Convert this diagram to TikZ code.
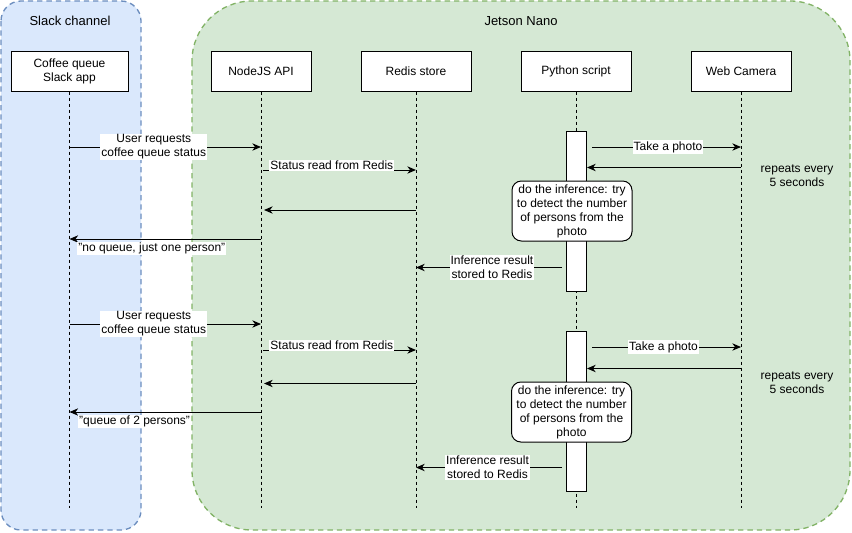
\documentclass[tikz,border=0pt]{standalone}
\usepackage{fontspec}
\setmainfont{Liberation Sans}
\definecolor{slackfill}{HTML}{DAE8FC}
\definecolor{slackedge}{HTML}{6C8EBF}
\definecolor{jetsonfill}{HTML}{D5E8D4}
\definecolor{jetsonedge}{HTML}{82B366}
\usetikzlibrary{arrows.meta, positioning, calc}

\begin{document}
\begin{tikzpicture}[x=0.75pt, y=-0.75pt, font=\fontsize{9}{10.5}\selectfont,
  head/.style={draw, fill=white, line width=0.75pt, minimum width=75pt, minimum height=30pt, align=center, inner sep=1pt},
  life/.style={line width=0.6pt, dash pattern=on 2.25pt off 2.25pt},
  actbox/.style={draw, fill=white, line width=0.75pt, minimum width=15pt, minimum height=120pt, inner sep=0pt},
  thinkbox/.style={draw, fill=white, line width=0.75pt, rounded corners=7pt, minimum width=90pt, minimum height=45pt, align=center, inner sep=1pt},
  msg/.style={line width=0.75pt, -{Stealth[length=6.5pt, width=5.5pt, inset=2pt]}},
  lbl/.style={fill=white, inner sep=0.8pt, align=center}]
  \useasboundingbox (0,0) rectangle (852,532);

  % Containers
  \draw[slackedge, fill=slackfill, line width=1pt, dash pattern=on 4pt off 3pt, rounded corners=15pt] (1,1) rectangle (141,530);
  \draw[jetsonedge, fill=jetsonfill, line width=1pt, dash pattern=on 4pt off 3pt, rounded corners=45pt] (192,1) rectangle (850,530);
  \node[font=\fontsize{9.75}{11}\selectfont] (slacktitle) at (70,21) {Slack channel};
  \node[font=\fontsize{9.75}{11}\selectfont] (jetsontitle) at (521,21) {Jetson Nano};

  % Lifeline heads
  \node[head, minimum width=87.75pt] (slackapp) at (69.5,71) {Coffee queue\\Slack app};
  \node[head] (api) at (261,71) {NodeJS API};
  \node[head, minimum width=82.5pt] (redis) at (416,71) {Redis store};
  \node[head, minimum width=82.5pt] (python) at (576,71) {Python script};
  \node[head] (camera) at (741,71) {Web Camera};

  % Lifelines
  \coordinate (bottom) at (0,508);
  \foreach \who in {slackapp, api, redis, python, camera}
    \draw[life] (\who) -- (\who |- bottom);

  % Activations of the script
  \node[actbox] (act1) at (576.5,211) {};
  \node[actbox] (act2) at (576.5,411) {};

  % First request
  \coordinate (r1) at (0,147);
  \coordinate (r2) at (0,170);
  \coordinate (r3) at (0,210);
  \coordinate (r4) at (0,239);
  \draw[msg] (slackapp |- r1) -- node[lbl, pos=0.44] {User requests\\coffee queue status} (api |- r1);
  \draw[msg] ([xshift=1.5pt]api |- r2) -- node[lbl, pos=0.45, above=-1pt] {Status read from Redis} (redis |- r2);
  \draw[msg] (redis |- r3) -- ([xshift=2.25pt]api |- r3);
  \draw[msg] (api |- r4) -- node[lbl, pos=0.57, below=1.5pt] {"no queue, just one person"} (slackapp |- r4);

  % First photo loop
  \coordinate (p1) at (0,147);
  \coordinate (p2) at (0,167.5);
  \coordinate (p3) at (0,267.5);
  \draw[msg] ([xshift=3.75pt]act1.east |- p1) -- node[lbl, pos=0.51] {Take a photo} (camera |- p1);
  \draw[msg] (camera |- p2) -- (act1.east |- p2);
  \node[thinkbox] (infer1) at (572,211) {do the inference: try\\to detect the number\\of persons from the\\photo};
  \node[align=center] (repeat1) at (797,176) {repeats every\\5 seconds};
  \draw[msg] ([xshift=-3pt]act1.west |- p3) -- node[lbl, pos=0.48] {Inference result\\stored to Redis} (redis |- p3);

  % Second request
  \coordinate (r5) at (0,324);
  \coordinate (r6) at (0,350);
  \coordinate (r7) at (0,383.5);
  \coordinate (r8) at (0,412);
  \draw[msg] (slackapp |- r5) -- node[lbl, pos=0.44] {User requests\\coffee queue status} (api |- r5);
  \draw[msg] ([xshift=1.5pt]api |- r6) -- node[lbl, pos=0.45, above=-1pt] {Status read from Redis} (redis |- r6);
  \draw[msg] (redis |- r7) -- ([xshift=2.25pt]api |- r7);
  \draw[msg] (api |- r8) -- node[lbl, pos=0.66, below=1.5pt] {"queue of 2 persons"} (slackapp |- r8);

  % Second photo loop
  \coordinate (p4) at (0,347);
  \coordinate (p5) at (0,368.5);
  \coordinate (p6) at (0,467.5);
  \draw[msg] ([xshift=3.75pt]act2.east |- p4) -- node[lbl, pos=0.48] {Take a photo} (camera |- p4);
  \draw[msg] (camera |- p5) -- (act2.east |- p5);
  \node[thinkbox] (infer2) at (571.5,412) {do the inference: try\\to detect the number\\of persons from the\\photo};
  \node[align=center] (repeat2) at (797,383) {repeats every\\5 seconds};
  \draw[msg] ([xshift=-3pt]act2.west |- p6) -- node[lbl, pos=0.51] {Inference result\\stored to Redis} (redis |- p6);
\end{tikzpicture}
\end{document}
